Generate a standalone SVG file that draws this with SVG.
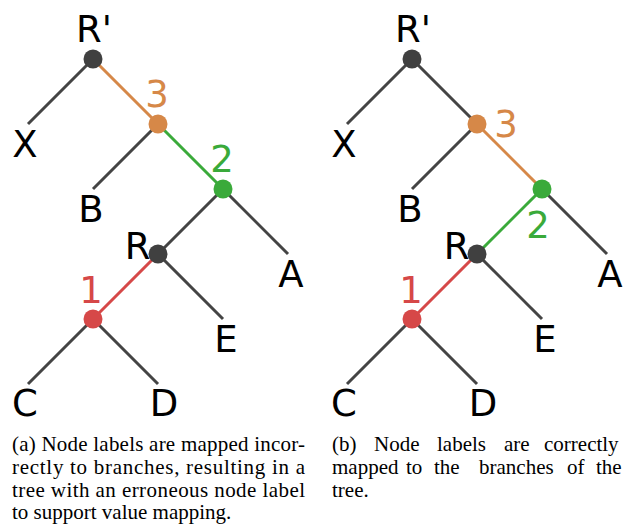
<svg xmlns="http://www.w3.org/2000/svg" width="624" height="524" viewBox="0 0 624 524">
<style>
.e{stroke:#444;stroke-width:3;fill:none;stroke-linecap:butt}
.o{stroke:#d68848}
.g{stroke:#3aaa3a}
.r{stroke:#d64848}
.n{fill:#404040}
.no{fill:#d68848}
.ng{fill:#3aaa3a}
.nr{fill:#d64848}
.t{font-family:"DejaVu Sans",sans-serif;font-size:37px;fill:#000;text-anchor:middle}
.to{fill:#d68848}
.tg{fill:#3aaa3a}
.tr{fill:#d64848}
</style>
<rect width="624" height="524" fill="#fff"/>
<g id="connectors">
<g id="edges-a">
<line class="e" x1="93" y1="59" x2="28" y2="124"/>
<line class="e o" x1="93" y1="59" x2="158" y2="124"/>
<line class="e" x1="158" y1="124" x2="93" y2="189"/>
<line class="e g" x1="158" y1="124" x2="223" y2="189"/>
<line class="e" x1="223" y1="189" x2="158" y2="254"/>
<line class="e" x1="223" y1="189" x2="288" y2="254"/>
<line class="e r" x1="158" y1="254" x2="93" y2="319"/>
<line class="e" x1="158" y1="254" x2="223" y2="319"/>
<line class="e" x1="93" y1="319" x2="28" y2="384"/>
<line class="e" x1="93" y1="319" x2="158" y2="384"/>
</g>
<g id="edges-b">
<line class="e" x1="412" y1="59" x2="347" y2="124"/>
<line class="e" x1="412" y1="59" x2="477" y2="124"/>
<line class="e" x1="477" y1="124" x2="412" y2="189"/>
<line class="e o" x1="477" y1="124" x2="542" y2="189"/>
<line class="e g" x1="542" y1="189" x2="477" y2="254"/>
<line class="e" x1="542" y1="189" x2="607" y2="254"/>
<line class="e r" x1="477" y1="254" x2="412" y2="319"/>
<line class="e" x1="477" y1="254" x2="542" y2="319"/>
<line class="e" x1="412" y1="319" x2="347" y2="384"/>
<line class="e" x1="412" y1="319" x2="477" y2="384"/>
</g>
</g>
<g id="tree-a">
<g id="a-Rp"><circle class="n" cx="93" cy="59" r="9.5"/><text class="t" x="94" y="42">R'</text></g>
<g id="a-3"><circle class="no" cx="158" cy="124" r="9.5"/><text class="t to" x="157" y="107">3</text></g>
<g id="a-2"><circle class="ng" cx="223" cy="189" r="9.5"/><text class="t tg" x="222" y="172">2</text></g>
<g id="a-R"><text class="t" x="137.5" y="259">R</text><circle class="n" cx="158" cy="254" r="9.5"/></g>
<g id="a-1"><circle class="nr" cx="93" cy="319" r="9.5"/><text class="t tr" x="91" y="303">1</text></g>
<g id="a-X"><text class="t" x="25" y="157">X</text></g>
<g id="a-B"><text class="t" x="91" y="222">B</text></g>
<g id="a-A"><text class="t" x="291" y="287">A</text></g>
<g id="a-E"><text class="t" x="226" y="352">E</text></g>
<g id="a-C"><text class="t" x="25" y="416">C</text></g>
<g id="a-D"><text class="t" x="164" y="416">D</text></g>
</g>
<g id="tree-b">
<g id="b-Rp"><circle class="n" cx="412" cy="59" r="9.5"/><text class="t" x="413" y="42">R'</text></g>
<g id="b-3"><circle class="no" cx="477" cy="124" r="9.5"/><text class="t to" x="506" y="137">3</text></g>
<g id="b-2"><circle class="ng" cx="542" cy="189" r="9.5"/><text class="t tg" x="538" y="238">2</text></g>
<g id="b-R"><text class="t" x="456.5" y="259">R</text><circle class="n" cx="477" cy="254" r="9.5"/></g>
<g id="b-1"><circle class="nr" cx="412" cy="319" r="9.5"/><text class="t tr" x="411" y="303">1</text></g>
<g id="b-X"><text class="t" x="344" y="157">X</text></g>
<g id="b-B"><text class="t" x="410" y="222">B</text></g>
<g id="b-A"><text class="t" x="610" y="287">A</text></g>
<g id="b-E"><text class="t" x="545" y="352">E</text></g>
<g id="b-C"><text class="t" x="344" y="416">C</text></g>
<g id="b-D"><text class="t" x="483" y="416">D</text></g>
</g>
<g id="caption-a" font-family="Liberation Serif, DejaVu Serif, serif" font-size="21" fill="#000">
<text x="12" y="451" textLength="293" lengthAdjust="spacing">(a) Node labels are mapped incor-</text>
<text x="12" y="474" textLength="293" lengthAdjust="spacing">rectly to branches, resulting in a</text>
<text x="12" y="497" textLength="293" lengthAdjust="spacing">tree with an erroneous node label</text>
<text x="12" y="519">to support value mapping.</text>
</g>
<g id="caption-b" font-family="Liberation Serif, DejaVu Serif, serif" font-size="21" fill="#000">
<text y="451"><tspan x="332">(b)</tspan><tspan x="374">Node</tspan><tspan x="437">labels</tspan><tspan x="504">are</tspan><tspan x="544">correctly</tspan></text>
<text y="474"><tspan x="332">mapped</tspan><tspan x="406">to</tspan><tspan x="434">the</tspan><tspan x="479">branches</tspan><tspan x="567">of</tspan><tspan x="596">the</tspan></text>
<text x="332" y="497">tree.</text>
</g>
</svg>
